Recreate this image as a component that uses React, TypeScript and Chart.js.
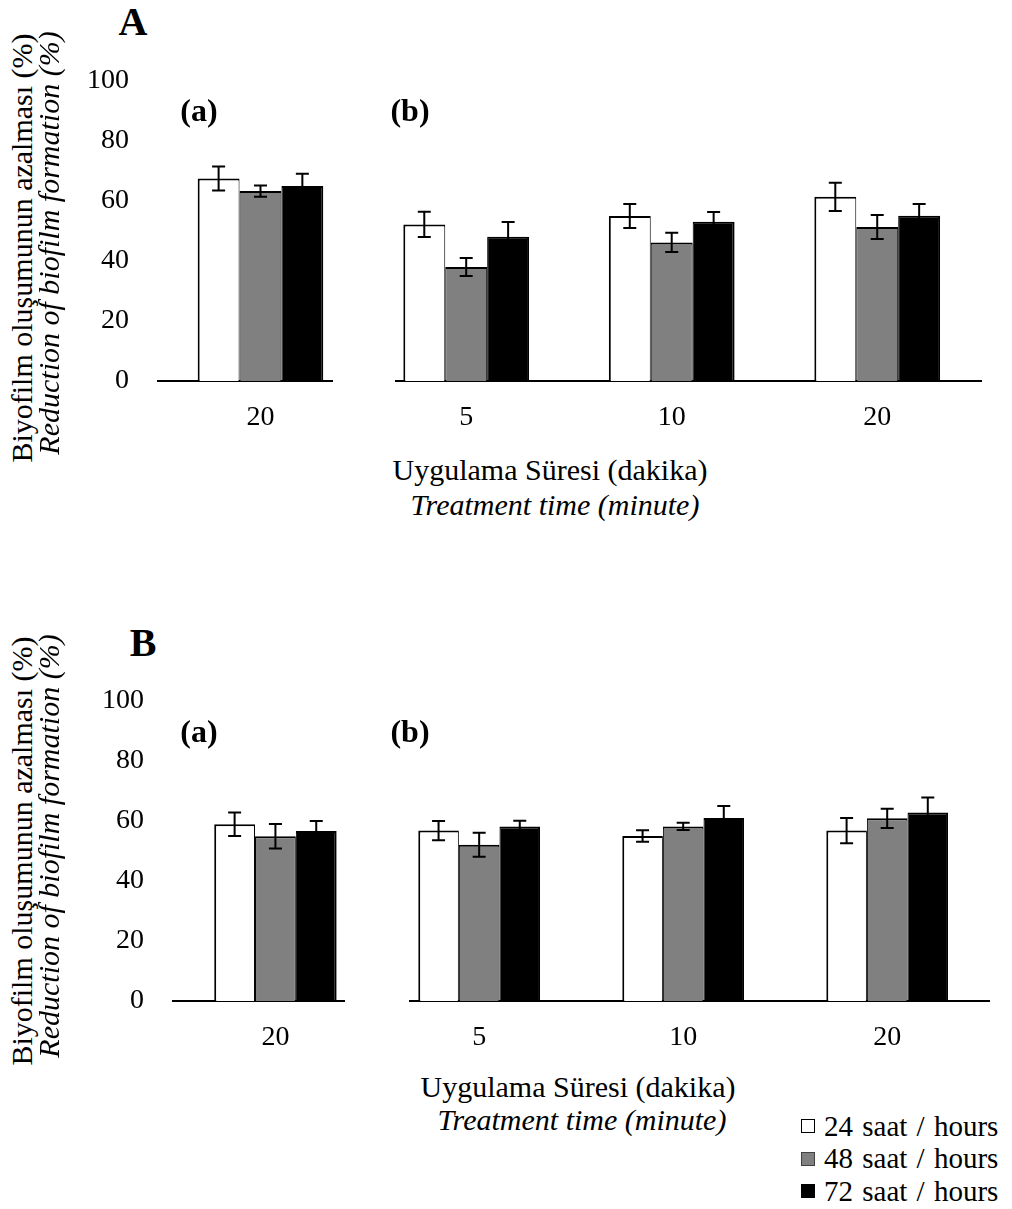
import React, { useEffect, useRef } from 'react';
import { Chart, registerables } from 'chart.js';

Chart.register(...registerables);

// ---------- data ----------
const seriesLabels = ['24 saat / hours', '48 saat / hours', '72 saat / hours'];
const seriesColors = ['#ffffff', '#808080', '#000000'];
const legendBorders = ['#000000', '#404040', '#000000'];

const yTickValues = [0, 20, 40, 60, 80, 100];

const catsSingle = ['20'];
const catsTriple = ['5', '10', '20'];

// Panel A (a)
const aA_h24 = [67.5];
const aA_h48 = [63.3];
const aA_h72 = [65.0];
const aA_e24 = [4.0];
const aA_e48 = [1.9];
const aA_e72 = [4.1];

// Panel A (b)
const bA_h24 = [52.2, 55.0, 61.4];
const bA_h48 = [38.0, 46.2, 51.3];
const bA_h72 = [48.1, 53.1, 55.1];
const bA_e24 = [4.2, 4.0, 4.7];
const bA_e48 = [3.0, 3.2, 4.0];
const bA_e72 = [4.9, 3.2, 3.9];

// Panel B (a)
const aB_h24 = [58.9];
const aB_h48 = [54.9];
const aB_h72 = [56.7];
const aB_e24 = [3.9];
const aB_e48 = [4.1];
const aB_e72 = [3.3];

// Panel B (b)
const bB_h24 = [56.8, 55.0, 56.8];
const bB_h48 = [52.1, 58.2, 60.9];
const bB_h72 = [58.2, 61.0, 62.8];
const bB_e24 = [3.2, 1.9, 4.2];
const bB_e48 = [4.0, 1.2, 3.2];
const bB_e72 = [1.9, 4.0, 5.0];

// ---------- styles ----------
const FONT = "'Liberation Serif', serif";
const barBorders = [
  { top: 2, left: 2, right: 1, bottom: 0 },
  { top: 2, left: 1, right: 1, bottom: 0 },
  { top: 2, left: 1, right: 2, bottom: 0 },
];

const errorBarPlugin = {
  id: 'errorBars',
  afterDatasetsDraw(chart: any) {
    const { ctx } = chart;
    const yScale = chart.scales.y;
    ctx.save();
    ctx.strokeStyle = '#000';
    ctx.lineWidth = 2;
    chart.data.datasets.forEach((ds: any, i: number) => {
      const meta = chart.getDatasetMeta(i);
      meta.data.forEach((bar: any, j: number) => {
        const v = ds.data[j].y;
        const e = ds.errors[j];
        const x = bar.x;
        const y1 = yScale.getPixelForValue(v + e);
        const y2 = yScale.getPixelForValue(v - e);
        const cap = 6.5;
        ctx.beginPath();
        ctx.moveTo(x, y1);
        ctx.lineTo(x, y2);
        ctx.moveTo(x - cap, y1);
        ctx.lineTo(x + cap, y1);
        ctx.moveTo(x - cap, y2);
        ctx.lineTo(x + cap, y2);
        ctx.stroke();
      });
    });
    ctx.restore();
  },
};

type PanelProps = {
  left: number;
  top: number;
  width: number;
  height: number;
  padLeft: number;
  padRight: number;
  padTop: number;
  yWidth: number | null;
  xHeight: number;
  categories: string[];
  values: number[][];
  errors: number[][];
  xMin: number;
  xMax: number;
  catPct: number;
};

function BarPanel(p: PanelProps) {
  const ref = useRef<HTMLCanvasElement | null>(null);
  useEffect(() => {
    if (!ref.current) return;
    const chart = new Chart(ref.current, {
      type: 'bar',
      data: {
        datasets: p.values.map((vals, i) => ({
          label: seriesLabels[i],
          data: p.categories.map((_, j) => ({ x: j, y: vals[j] })),
          backgroundColor: seriesColors[i],
          borderColor: '#000',
          borderWidth: barBorders[i],
          borderSkipped: false,
          errors: p.errors[i],
        })) as any,
      },
      options: {
        animation: false,
        responsive: false,
        maintainAspectRatio: false,
        layout: { padding: { left: p.padLeft, right: p.padRight, top: p.padTop, bottom: 0 } },
        datasets: { bar: { categoryPercentage: p.catPct, barPercentage: 1 } },
        plugins: { legend: { display: false }, tooltip: { enabled: false } },
        scales: {
          x: {
            type: 'linear',
            min: p.xMin,
            max: p.xMax,
            offset: false,
            bounds: 'data',
            grid: { display: false, drawTicks: false, offset: false },
            border: { display: true, color: '#000', width: 2 },
            afterBuildTicks: (s: any) => {
              s.ticks = p.categories.map((_, j) => ({ value: j }));
            },
            ticks: {
              callback: (v: any) => p.categories[v as number],
              font: { family: FONT, size: 28 },
              color: '#000',
              padding: 20,
              maxRotation: 0,
              autoSkip: false,
            },
            afterFit: (s: any) => {
              s.height = p.xHeight;
              s.paddingLeft = 0;
              s.paddingRight = 0;
            },
          },
          y: {
            min: 0,
            max: 100,
            display: p.yWidth !== null,
            afterBuildTicks: (s: any) => {
              s.ticks = yTickValues.map((v) => ({ value: v }));
            },
            ticks: {
              font: { family: FONT, size: 28 },
              color: '#000',
              padding: 29,
            },
            grid: { display: false, drawTicks: false },
            border: { display: false },
            afterFit: (s: any) => {
              if (p.yWidth !== null) s.width = p.yWidth;
              s.paddingTop = 0;
              s.paddingBottom = 0;
            },
          },
        },
      } as any,
      plugins: [errorBarPlugin],
    });
    return () => chart.destroy();
  }, []);
  return (
    <canvas
      ref={ref}
      width={p.width}
      height={p.height}
      style={{ position: 'absolute', left: p.left, top: p.top, width: p.width, height: p.height }}
    />
  );
}

const txt = (extra: React.CSSProperties): React.CSSProperties => ({
  position: 'absolute',
  fontFamily: FONT,
  color: '#000',
  whiteSpace: 'nowrap',
  lineHeight: 1,
  transform: 'translate(-50%, -50%)',
  ...extra,
});

const rot = (extra: React.CSSProperties): React.CSSProperties => ({
  ...txt(extra),
  transform: 'translate(-50%, -50%) rotate(-90deg)',
});

export default function App() {
  return (
    <div style={{ position: 'absolute', left: 0, top: 0, width: 1012, height: 1209, background: '#fff' }}>
      {/* Panel A */}
      <BarPanel
        left={40} top={56} width={300} height={380}
        padLeft={0} padRight={8} padTop={25} yWidth={118} xHeight={55}
        categories={catsSingle}
        values={[aA_h24, aA_h48, aA_h72]}
        errors={[aA_e24, aA_e48, aA_e72]}
        xMin={-0.589} xMax={0.411} catPct={0.722}
      />
      <BarPanel
        left={380} top={56} width={610} height={380}
        padLeft={16} padRight={9} padTop={25} yWidth={null} xHeight={55}
        categories={catsTriple}
        values={[bA_h24, bA_h48, bA_h72]}
        errors={[bA_e24, bA_e48, bA_e72]}
        xMin={-0.3416} xMax={2.505} catPct={0.612}
      />
      {/* Panel B */}
      <BarPanel
        left={40} top={676} width={312} height={380}
        padLeft={0} padRight={8} padTop={25} yWidth={133} xHeight={55}
        categories={catsSingle}
        values={[aB_h24, aB_h48, aB_h72]}
        errors={[aB_e24, aB_e48, aB_e72]}
        xMin={-0.599} xMax={0.401} catPct={0.716}
      />
      <BarPanel
        left={395} top={676} width={600} height={380}
        padLeft={15} padRight={6} padTop={25} yWidth={null} xHeight={55}
        categories={catsTriple}
        values={[bB_h24, bB_h48, bB_h72]}
        errors={[bB_e24, bB_e48, bB_e72]}
        xMin={-0.339} xMax={2.499} catPct={0.597}
      />

      {/* Panel letters */}
      <div style={txt({ left: 133, top: 22, fontSize: 40, fontWeight: 'bold' })}>A</div>
      <div style={txt({ left: 143, top: 643, fontSize: 40, fontWeight: 'bold' })}>B</div>
      <div style={txt({ left: 199, top: 110, fontSize: 32, fontWeight: 'bold' })}>(a)</div>
      <div style={txt({ left: 410, top: 110, fontSize: 32, fontWeight: 'bold' })}>(b)</div>
      <div style={txt({ left: 199, top: 731, fontSize: 32, fontWeight: 'bold' })}>(a)</div>
      <div style={txt({ left: 410, top: 731, fontSize: 32, fontWeight: 'bold' })}>(b)</div>

      {/* Y titles */}
      <div style={rot({ left: 22, top: 248, fontSize: 30 })}>Biyofilm oluşumunun azalması (%)</div>
      <div style={rot({ left: 49, top: 243, fontSize: 30, fontStyle: 'italic' })}>Reduction of biofilm formation (%)</div>
      <div style={rot({ left: 22, top: 851, fontSize: 30 })}>Biyofilm oluşumunun azalması (%)</div>
      <div style={rot({ left: 49, top: 846, fontSize: 30, fontStyle: 'italic' })}>Reduction of biofilm formation (%)</div>

      {/* X titles */}
      <div style={txt({ left: 550, top: 470, fontSize: 30 })}>Uygulama Süresi (dakika)</div>
      <div style={txt({ left: 555, top: 505, fontSize: 30, fontStyle: 'italic' })}>Treatment time (minute)</div>
      <div style={txt({ left: 578, top: 1087, fontSize: 30 })}>Uygulama Süresi (dakika)</div>
      <div style={txt({ left: 582, top: 1120, fontSize: 30, fontStyle: 'italic' })}>Treatment time (minute)</div>

      {/* Legend */}
      {seriesLabels.map((lab, i) => (
        <div key={lab} style={{ position: 'absolute', left: 801, top: 1126 + i * 32.5 - 15, height: 30, display: 'flex', alignItems: 'center', fontFamily: FONT, fontSize: 29, color: '#000', whiteSpace: 'nowrap', wordSpacing: 2 }}>
          <span style={{ display: 'inline-block', width: 12, height: 12, background: seriesColors[i], border: `1.5px solid ${legendBorders[i]}`, marginRight: 9 }} />
          <span>{lab}</span>
        </div>
      ))}
    </div>
  );
}
